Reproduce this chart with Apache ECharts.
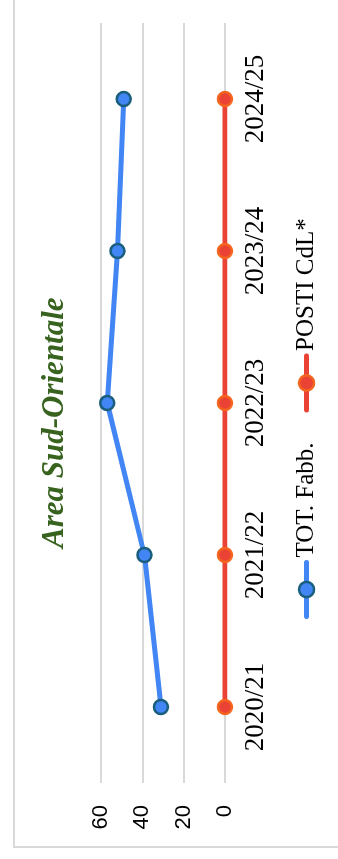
<!DOCTYPE html>
<html>
<head>
<meta charset="utf-8">
<script src="https://cdn.jsdelivr.net/npm/echarts@6/dist/echarts.min.js"></script>
<style>
  html, body { margin: 0; padding: 0; background: #ffffff; overflow: hidden; }
  body { width: 338px; height: 859px; position: relative; }
  /* chart is laid out landscape, then turned a quarter turn counter-clockwise */
  #chart {
    position: absolute; left: 0; top: 0;
    width: 859px; height: 338px;
    transform-origin: 0 0;
    transform: translateY(859px) rotate(-90deg);
  }
</style>
</head>
<body>
<div id="chart"></div>
<script>
const titleText = 'Area Sud-Orientale';
const seasons = ['2020/21', '2021/22', '2022/23', '2023/24', '2024/25'];
const totFabb = [31, 39, 57, 52, 49];
const postiCdL = [0, 0, 0, 0, 0];
const seriesNames = ['TOT. Fabb.', 'POSTI CdL*'];
const valueTicks = { min: 0, max: 60, interval: 20 };

const chart = echarts.init(document.getElementById('chart'), null, { renderer: 'canvas' });

chart.setOption({
  backgroundColor: '#ffffff',
  animation: false,
  graphic: [{
    type: 'rect',
    shape: { x: 12, y: 14, width: 900, height: 400 },
    style: { fill: 'none', stroke: '#d9d9d9', lineWidth: 2 },
    silent: true,
    z: -1
  }],
  title: {
    text: titleText,
    left: 311,
    top: 39,
    padding: 0,
    textStyle: {
      fontFamily: 'Liberation Serif',
      fontStyle: 'italic',
      fontWeight: 'bold',
      fontSize: 31,
      color: '#38631f'
    }
  },
  legend: {
    data: seriesNames,
    left: 240,
    top: 294,
    padding: 0,
    itemWidth: 54,
    itemHeight: 19,
    itemGap: 30,
    lineStyle: { width: 5, cap: 'round' },
    itemStyle: { borderWidth: 2.5 },
    textStyle: {
      fontFamily: 'Liberation Serif',
      fontSize: 25,
      color: '#000000',
      padding: [0, 0, 0, 0]
    }
  },
  grid: { left: 76, right: 23, top: 101, bottom: 113, containLabel: false },
  xAxis: {
    type: 'category',
    data: seasons,
    boundaryGap: true,
    axisLine: { show: false },
    axisTick: { show: false },
    axisLabel: {
      margin: 17,
      fontFamily: 'Liberation Serif',
      fontSize: 27,
      color: '#000000'
    }
  },
  yAxis: {
    type: 'value',
    min: valueTicks.min,
    max: valueTicks.max,
    interval: valueTicks.interval,
    axisLine: { show: false },
    axisTick: { show: false },
    splitLine: { lineStyle: { color: '#d9d9d9', width: 2 } },
    axisLabel: {
      margin: 22,
      fontFamily: 'Liberation Sans',
      fontSize: 22,
      color: '#000000'
    }
  },
  series: [
    {
      name: seriesNames[0],
      type: 'line',
      data: totFabb,
      symbol: 'circle',
      symbolSize: 14,
      lineStyle: { color: '#4285f4', width: 5 },
      itemStyle: { color: '#4285f4', borderColor: '#1a5e7e', borderWidth: 2.5 },
      z: 3
    },
    {
      name: seriesNames[1],
      type: 'line',
      data: postiCdL,
      symbol: 'circle',
      symbolSize: 14,
      lineStyle: { color: '#ea4335', width: 5 },
      itemStyle: { color: '#ea4335', borderColor: '#f4651f', borderWidth: 2.5 },
      z: 2
    }
  ]
});
</script>
</body>
</html>
